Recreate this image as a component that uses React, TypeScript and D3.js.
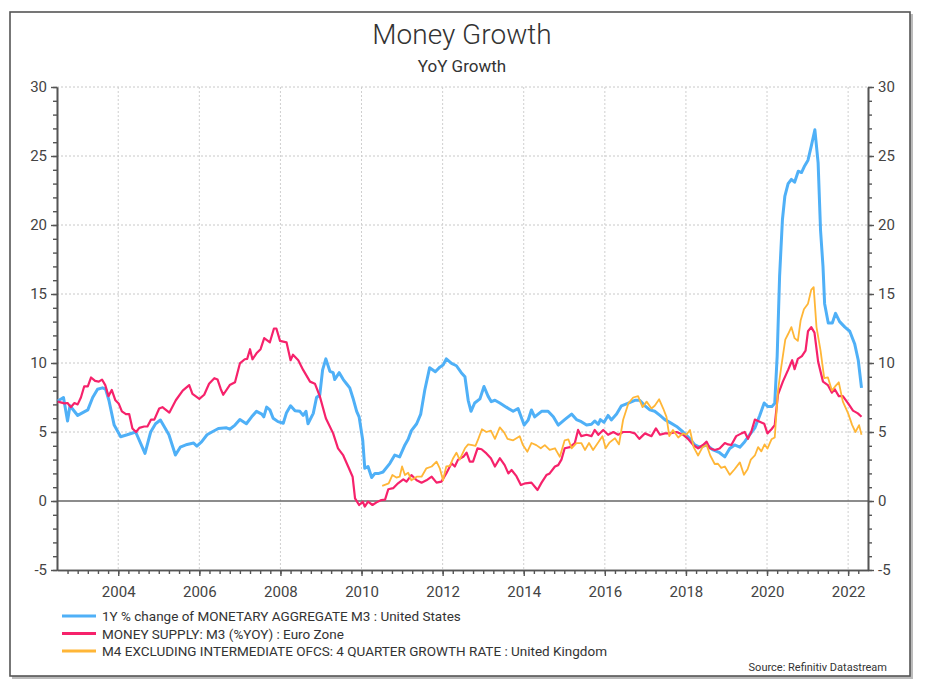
import React, { useEffect, useRef } from 'react';
import * as d3 from 'd3';

type Pt = [number, number];

// [decimal year, YoY %]
const usM3: Pt[] = [
  [2002.51, 7.25], [2002.65, 7.5], [2002.75, 5.8], [2002.81, 6.9], [2003.0, 6.2], [2003.25, 6.6],
  [2003.37, 7.5], [2003.49, 8.1], [2003.61, 8.2], [2003.69, 8.1], [2003.77, 7.3], [2003.9, 5.5],
  [2004.06, 4.66], [2004.22, 4.8], [2004.43, 5.0], [2004.55, 4.2], [2004.66, 3.45], [2004.8, 5.0],
  [2004.92, 5.6], [2005.04, 5.87], [2005.25, 4.8], [2005.41, 3.33], [2005.53, 3.9], [2005.7, 4.1],
  [2005.86, 4.2], [2005.94, 3.98], [2006.06, 4.3], [2006.19, 4.8], [2006.31, 5.0], [2006.47, 5.25],
  [2006.67, 5.3], [2006.75, 5.2], [2006.88, 5.5], [2007.0, 5.9], [2007.16, 5.6], [2007.29, 6.1],
  [2007.41, 6.5], [2007.54, 6.3], [2007.59, 6.1], [2007.66, 6.8], [2007.74, 6.6], [2007.82, 6.0],
  [2007.94, 5.75], [2008.07, 5.63], [2008.15, 6.4], [2008.25, 6.9], [2008.36, 6.54], [2008.48, 6.5],
  [2008.56, 6.2], [2008.63, 6.5], [2008.68, 5.6], [2008.81, 6.35], [2008.89, 7.5], [2008.97, 7.68],
  [2009.04, 9.5], [2009.12, 10.3], [2009.22, 9.4], [2009.3, 9.3], [2009.34, 8.8], [2009.45, 9.3],
  [2009.55, 8.8], [2009.63, 8.5], [2009.71, 8.2], [2009.79, 7.45], [2009.88, 6.5], [2009.94, 6.1],
  [2010.03, 4.4], [2010.08, 2.37], [2010.16, 2.5], [2010.25, 1.7], [2010.33, 2.0], [2010.43, 2.0],
  [2010.53, 2.1], [2010.7, 2.73], [2010.82, 3.33], [2010.94, 3.2], [2011.07, 4.06], [2011.15, 4.47],
  [2011.23, 5.1], [2011.36, 5.6], [2011.46, 6.3], [2011.56, 8.04], [2011.68, 9.66], [2011.82, 9.37],
  [2011.93, 9.7], [2012.01, 9.85], [2012.09, 10.3], [2012.22, 9.97], [2012.34, 9.8], [2012.46, 9.3],
  [2012.55, 9.0], [2012.63, 7.3], [2012.7, 6.5], [2012.79, 7.1], [2012.92, 7.4], [2013.02, 8.3],
  [2013.12, 7.6], [2013.2, 7.2], [2013.29, 7.3], [2013.41, 7.1], [2013.57, 6.8], [2013.74, 6.5],
  [2013.86, 6.7], [2014.01, 5.5], [2014.11, 5.87], [2014.19, 6.6], [2014.27, 6.1], [2014.44, 6.5],
  [2014.6, 6.5], [2014.73, 6.1], [2014.85, 5.5], [2015.01, 5.9], [2015.18, 6.3], [2015.3, 5.9],
  [2015.42, 5.75], [2015.55, 5.5], [2015.67, 5.56], [2015.75, 5.8], [2015.84, 5.56], [2015.89, 5.9],
  [2015.98, 5.7], [2016.08, 6.2], [2016.16, 5.87], [2016.29, 6.3], [2016.41, 6.9], [2016.58, 7.1],
  [2016.74, 7.3], [2016.86, 7.3], [2016.99, 6.9], [2017.11, 6.6], [2017.23, 6.5], [2017.36, 6.2],
  [2017.48, 5.9], [2017.6, 5.7], [2017.77, 5.4], [2017.93, 5.0], [2018.1, 4.5], [2018.22, 4.06],
  [2018.34, 3.9], [2018.51, 4.06], [2018.67, 3.7], [2018.83, 3.5], [2018.96, 3.2], [2019.08, 3.8],
  [2019.2, 4.06], [2019.33, 3.9], [2019.45, 4.3], [2019.57, 4.8], [2019.7, 5.3], [2019.82, 6.2],
  [2019.93, 7.1], [2020.02, 6.84], [2020.12, 6.84], [2020.19, 7.08], [2020.25, 10.5], [2020.31, 16.3],
  [2020.38, 20.4], [2020.44, 22.1], [2020.52, 23.0], [2020.6, 23.3], [2020.68, 23.1], [2020.77, 23.9],
  [2020.85, 23.8], [2020.93, 24.3], [2021.01, 24.7], [2021.09, 25.7], [2021.18, 26.9], [2021.26, 24.5],
  [2021.32, 19.6], [2021.38, 17.0], [2021.42, 14.3], [2021.51, 12.9], [2021.61, 12.9], [2021.69, 13.6],
  [2021.79, 13.0], [2021.92, 12.6], [2022.04, 12.3], [2022.16, 11.4], [2022.25, 10.2], [2022.33, 8.2],
];

const euroM3: Pt[] = [
  [2002.51, 7.2], [2002.67, 7.07], [2002.75, 7.1], [2002.83, 6.8], [2002.92, 7.1], [2003.0, 7.0],
  [2003.08, 7.5], [2003.16, 8.3], [2003.25, 8.3], [2003.33, 8.95], [2003.43, 8.7], [2003.52, 8.65],
  [2003.6, 8.8], [2003.68, 8.4], [2003.76, 7.6], [2003.84, 8.05], [2003.93, 7.3], [2004.01, 7.07],
  [2004.09, 6.5], [2004.19, 6.3], [2004.27, 6.3], [2004.35, 5.26], [2004.44, 5.0], [2004.52, 5.3],
  [2004.64, 5.4], [2004.72, 5.4], [2004.81, 5.9], [2004.89, 5.9], [2005.01, 6.7], [2005.09, 6.8],
  [2005.26, 6.4], [2005.42, 7.3], [2005.59, 8.0], [2005.75, 8.4], [2005.83, 7.76], [2006.0, 7.4],
  [2006.12, 7.7], [2006.24, 8.5], [2006.37, 8.9], [2006.45, 8.8], [2006.53, 8.1], [2006.59, 7.7],
  [2006.75, 8.4], [2006.88, 8.6], [2007.0, 9.97], [2007.12, 10.27], [2007.18, 10.3], [2007.25, 11.0],
  [2007.31, 10.27], [2007.41, 10.7], [2007.51, 11.0], [2007.6, 11.8], [2007.74, 11.5], [2007.84, 12.5],
  [2007.9, 12.5], [2007.99, 11.6], [2008.15, 11.5], [2008.25, 10.2], [2008.31, 10.6], [2008.44, 10.2],
  [2008.56, 9.5], [2008.73, 8.65], [2008.85, 8.5], [2008.97, 7.6], [2009.12, 6.0], [2009.3, 4.9],
  [2009.42, 3.82], [2009.55, 3.3], [2009.67, 2.5], [2009.78, 1.76], [2009.84, 0.19], [2009.94, -0.29],
  [2010.03, -0.05], [2010.08, -0.4], [2010.16, -0.05], [2010.27, -0.29], [2010.37, -0.1], [2010.49, 0.07],
  [2010.58, 0.1], [2010.66, 0.85], [2010.78, 0.93], [2010.9, 1.28], [2011.03, 1.57], [2011.11, 1.4],
  [2011.23, 1.88], [2011.36, 1.5], [2011.48, 1.33], [2011.6, 1.5], [2011.73, 1.76], [2011.85, 1.33],
  [2011.97, 1.4], [2012.09, 2.0], [2012.22, 2.73], [2012.3, 2.5], [2012.38, 3.0], [2012.51, 3.2],
  [2012.59, 3.5], [2012.67, 2.85], [2012.75, 2.85], [2012.86, 3.82], [2012.96, 3.75], [2013.08, 3.45],
  [2013.19, 3.1], [2013.29, 2.5], [2013.41, 3.1], [2013.53, 2.6], [2013.62, 2.0], [2013.7, 2.25],
  [2013.82, 1.8], [2013.93, 1.16], [2014.04, 1.28], [2014.19, 1.33], [2014.34, 0.8], [2014.44, 1.33],
  [2014.56, 1.88], [2014.64, 2.0], [2014.77, 2.5], [2014.85, 2.6], [2014.93, 3.0], [2015.01, 3.82],
  [2015.14, 3.9], [2015.26, 4.2], [2015.34, 5.15], [2015.42, 4.7], [2015.55, 4.8], [2015.67, 4.7],
  [2015.75, 5.15], [2015.84, 4.8], [2015.96, 5.15], [2016.08, 4.8], [2016.21, 5.0], [2016.33, 4.8],
  [2016.45, 5.0], [2016.62, 5.0], [2016.74, 4.9], [2016.85, 4.5], [2016.99, 4.9], [2017.15, 4.7],
  [2017.26, 5.26], [2017.36, 4.8], [2017.48, 4.9], [2017.6, 4.9], [2017.77, 5.0], [2017.93, 4.8],
  [2018.05, 4.5], [2018.18, 4.06], [2018.3, 3.82], [2018.42, 4.06], [2018.51, 4.3], [2018.59, 3.82],
  [2018.71, 3.7], [2018.83, 3.8], [2018.96, 4.2], [2019.04, 4.1], [2019.12, 4.06], [2019.24, 4.7],
  [2019.37, 4.9], [2019.45, 5.0], [2019.53, 4.5], [2019.61, 5.0], [2019.7, 5.9], [2019.82, 5.75],
  [2019.93, 5.6], [2020.01, 4.9], [2020.11, 5.2], [2020.19, 5.5], [2020.27, 7.7], [2020.39, 8.65],
  [2020.52, 9.5], [2020.62, 10.2], [2020.68, 9.55], [2020.76, 10.3], [2020.86, 10.5], [2020.95, 10.9],
  [2021.01, 12.3], [2021.09, 12.6], [2021.17, 12.2], [2021.26, 10.1], [2021.38, 8.65], [2021.5, 8.4],
  [2021.6, 7.85], [2021.67, 8.1], [2021.77, 7.6], [2021.87, 7.6], [2022.0, 7.08], [2022.12, 6.55],
  [2022.24, 6.35], [2022.33, 6.1],
];

const ukM4: Pt[] = [
  [2010.51, 1.1], [2010.67, 1.28], [2010.76, 1.88], [2010.86, 1.7], [2010.94, 1.76], [2011.0, 2.5],
  [2011.07, 1.88], [2011.15, 2.05], [2011.23, 1.5], [2011.36, 1.76], [2011.48, 1.76], [2011.6, 2.37],
  [2011.73, 2.5], [2011.85, 2.85], [2011.93, 2.37], [2012.01, 1.5], [2012.09, 2.5], [2012.18, 2.55],
  [2012.26, 3.1], [2012.34, 3.5], [2012.42, 3.0], [2012.55, 3.82], [2012.63, 4.1], [2012.73, 4.05],
  [2012.81, 4.0], [2012.88, 4.5], [2012.97, 5.2], [2013.08, 5.0], [2013.19, 5.1], [2013.29, 4.5],
  [2013.41, 5.34], [2013.52, 4.95], [2013.6, 4.5], [2013.74, 4.4], [2013.9, 4.7], [2013.98, 4.05],
  [2014.09, 3.57], [2014.19, 4.2], [2014.31, 4.05], [2014.42, 3.82], [2014.52, 4.05], [2014.64, 3.7],
  [2014.77, 3.82], [2014.89, 3.2], [2015.01, 4.4], [2015.1, 4.47], [2015.18, 3.82], [2015.3, 4.2],
  [2015.42, 4.2], [2015.51, 3.7], [2015.61, 4.2], [2015.71, 3.7], [2015.84, 4.25], [2015.94, 4.7],
  [2016.02, 3.82], [2016.12, 4.25], [2016.25, 4.55], [2016.35, 4.1], [2016.45, 5.87], [2016.58, 7.07],
  [2016.7, 7.5], [2016.82, 7.6], [2016.93, 6.8], [2017.03, 7.2], [2017.15, 6.7], [2017.23, 6.9],
  [2017.34, 7.37], [2017.44, 6.7], [2017.52, 6.1], [2017.59, 4.7], [2017.68, 5.15], [2017.81, 4.6],
  [2017.93, 4.9], [2018.01, 4.8], [2018.1, 5.15], [2018.19, 3.9], [2018.3, 3.3], [2018.41, 3.9],
  [2018.51, 4.06], [2018.6, 3.3], [2018.71, 2.68], [2018.79, 2.7], [2018.87, 2.4], [2018.96, 2.5],
  [2019.08, 1.9], [2019.2, 2.3], [2019.33, 2.8], [2019.43, 1.9], [2019.52, 2.3], [2019.6, 3.0],
  [2019.7, 3.3], [2019.78, 3.9], [2019.86, 3.6], [2019.94, 4.1], [2020.01, 3.8], [2020.11, 4.47],
  [2020.19, 4.6], [2020.27, 8.0], [2020.35, 9.7], [2020.45, 11.7], [2020.52, 12.1], [2020.6, 12.6],
  [2020.68, 11.8], [2020.76, 11.6], [2020.83, 13.1], [2020.91, 13.9], [2021.01, 14.3], [2021.09, 15.3],
  [2021.15, 15.5], [2021.22, 12.6], [2021.32, 10.9], [2021.41, 8.9], [2021.5, 8.96], [2021.6, 8.0],
  [2021.68, 8.3], [2021.77, 8.6], [2021.87, 7.2], [2022.0, 6.35], [2022.1, 5.5], [2022.18, 5.0],
  [2022.27, 5.5], [2022.33, 4.8],
];

const seriesNames = [
  '1Y % change of MONETARY AGGREGATE M3 : United States',
  'MONEY SUPPLY: M3 (%YOY) : Euro Zone',
  'M4 EXCLUDING INTERMEDIATE OFCS: 4 QUARTER GROWTH RATE : United Kingdom',
];
const seriesColors = ['#4fb0f7', '#f6226b', '#ffb637'];
const seriesWidths = [3, 2.2, 1.8];

const yearTicks = [2004, 2006, 2008, 2010, 2012, 2014, 2016, 2018, 2020, 2022];
const yMajorTicks = [-5, 0, 5, 10, 15, 20, 25, 30];
const yGridTicks = [5, 10, 15, 20, 25, 30];

const FONT = 'Roboto, "Noto Sans", sans-serif';

const App: React.FC = () => {
  const ref = useRef<SVGSVGElement | null>(null);

  useEffect(() => {
    if (!ref.current) return;
    const svg = d3.select<SVGSVGElement, unknown>(ref.current);
    svg.selectAll('*').remove();

    const W = 926;
    const H = 696;
    const left = 57;
    const right = 868;
    const top = 87;
    const bottom = 570;

    const x = d3.scaleLinear().domain([2002.49, 2022.49]).range([left, right]);
    const y = d3.scaleLinear().domain([-5, 30]).range([bottom, top]);

    svg.attr('width', W).attr('height', H);

    // frame with a little shadow
    svg.append('rect').attr('x', 12).attr('y', 14).attr('width', 901).attr('height', 665).attr('fill', '#bbb');
    svg
      .append('rect')
      .attr('x', 10)
      .attr('y', 12)
      .attr('width', 900)
      .attr('height', 664)
      .attr('fill', '#fff')
      .attr('stroke', '#555')
      .attr('stroke-width', 1.6);

    svg
      .append('text')
      .attr('x', 462)
      .attr('y', 44)
      .attr('text-anchor', 'middle')
      .attr('font-family', FONT)
      .attr('font-weight', 300)
      .attr('font-size', 28)
      .attr('fill', '#333')
      .text('Money Growth');

    svg
      .append('text')
      .attr('x', 462)
      .attr('y', 72)
      .attr('text-anchor', 'middle')
      .attr('font-family', FONT)
      .attr('font-size', 17)
      .attr('fill', '#333')
      .text('YoY Growth');

    const g = svg.append('g');

    // grid
    g.selectAll('line.hgrid')
      .data(yGridTicks)
      .join('line')
      .attr('x1', left)
      .attr('x2', right)
      .attr('y1', d => y(d))
      .attr('y2', d => y(d))
      .attr('stroke', '#c8c8c8')
      .attr('stroke-dasharray', '2,2');

    g.selectAll('line.vgrid')
      .data(yearTicks)
      .join('line')
      .attr('x1', d => x(d))
      .attr('x2', d => x(d))
      .attr('y1', top)
      .attr('y2', bottom)
      .attr('stroke', '#cfcfcf')
      .attr('stroke-dasharray', '2,2');

    // zero line
    g.append('line')
      .attr('x1', left)
      .attr('x2', right)
      .attr('y1', y(0))
      .attr('y2', y(0))
      .attr('stroke', '#666')
      .attr('stroke-width', 1.4);

    const styleAxis = (sel: d3.Selection<SVGGElement, unknown, null, undefined>) => {
      sel.select('.domain').attr('stroke', '#555').attr('stroke-width', 1.6);
      sel.selectAll('.tick line').attr('stroke', '#555').attr('stroke-width', 1.4);
      sel
        .selectAll('.tick text')
        .attr('fill', '#444')
        .attr('font-family', FONT)
        .attr('font-size', 15);
    };

    const minorY = d3.range(-5, 31, 1);
    const plain = (d: d3.NumberValue) => String(d);

    // left axis
    const la = g.append('g').attr('transform', `translate(${left},0)`);
    la.call(d3.axisLeft(y).tickValues(minorY).tickSize(4).tickFormat(() => '').tickSizeOuter(0));
    styleAxis(la as any);
    const laM = g.append('g').attr('transform', `translate(${left},0)`);
    laM.call(d3.axisLeft(y).tickValues(yMajorTicks).tickSize(6).tickPadding(4).tickFormat(plain).tickSizeOuter(0));
    styleAxis(laM as any);

    // right axis
    const ra = g.append('g').attr('transform', `translate(${right},0)`);
    ra.call(d3.axisRight(y).tickValues(minorY).tickSize(4).tickFormat(() => '').tickSizeOuter(0));
    styleAxis(ra as any);
    const raM = g.append('g').attr('transform', `translate(${right},0)`);
    raM.call(d3.axisRight(y).tickValues(yMajorTicks).tickSize(6).tickPadding(4).tickFormat(plain).tickSizeOuter(0));
    styleAxis(raM as any);

    // bottom axis
    const quarters = d3.range(2002.75, 2022.49, 0.25);
    const ba = g.append('g').attr('transform', `translate(0,${bottom})`);
    ba.call(d3.axisBottom(x).tickValues(quarters).tickSize(4).tickFormat(() => '').tickSizeOuter(0));
    styleAxis(ba as any);
    const baM = g.append('g').attr('transform', `translate(0,${bottom})`);
    baM.call(d3.axisBottom(x).tickValues(yearTicks).tickSize(6).tickPadding(10).tickFormat(plain).tickSizeOuter(0));
    styleAxis(baM as any);

    // lines
    const line = d3
      .line<Pt>()
      .x(d => x(d[0]))
      .y(d => y(d[1]));

    [usM3, euroM3, ukM4].forEach((data, i) => {
      g.append('path')
        .datum(data)
        .attr('fill', 'none')
        .attr('stroke', seriesColors[i])
        .attr('stroke-width', seriesWidths[i])
        .attr('stroke-linejoin', 'round')
        .attr('d', line);
    });

    // legend
    const lg = svg.append('g');
    seriesNames.forEach((name, i) => {
      const ly = 616 + i * 17.5;
      lg.append('line')
        .attr('x1', 62)
        .attr('x2', 96)
        .attr('y1', ly)
        .attr('y2', ly)
        .attr('stroke', seriesColors[i])
        .attr('stroke-width', 3);
      lg.append('text')
        .attr('x', 102)
        .attr('y', ly + 5)
        .attr('font-family', FONT)
        .attr('font-size', 13.5)
        .attr('fill', '#333')
        .text(name);
    });

    svg
      .append('text')
      .attr('x', 887)
      .attr('y', 671)
      .attr('text-anchor', 'end')
      .attr('font-family', FONT)
      .attr('font-size', 11)
      .attr('fill', '#333')
      .text('Source: Refinitiv Datastream');
  }, []);

  return (
    <div style={{ position: 'absolute', left: 0, top: 0 }}>
      <svg ref={ref} />
    </div>
  );
};

export default App;
